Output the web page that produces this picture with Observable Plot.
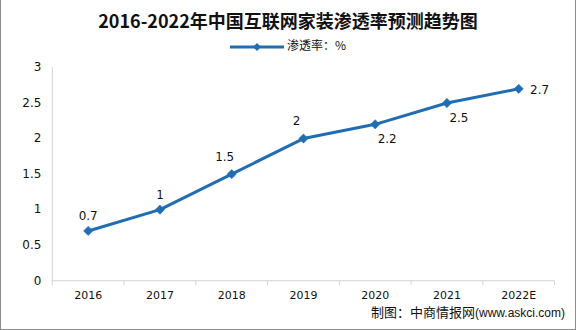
<!DOCTYPE html>
<html><head><meta charset="utf-8">
<script src="https://cdn.jsdelivr.net/npm/d3@7"></script>
<script src="https://cdn.jsdelivr.net/npm/@observablehq/plot@0.6"></script>
<style>
body{margin:0;background:#fff;}
#wrap{position:relative;width:576px;height:330px;box-sizing:border-box;border:1px solid #8c8c8c;border-top:none;overflow:hidden;font-family:"Noto Sans CJK SC",sans-serif;background:#fff;}
#title{position:absolute;top:7px;left:0;width:100%;text-align:center;font-weight:bold;font-size:18px;line-height:26px;font-family:"Noto Sans CJK SC",serif;color:#111;}
#legend{position:absolute;top:36px;left:0;width:100%;text-align:center;font-size:12px;line-height:18px;color:#111;}
#legend svg{vertical-align:middle;margin-right:3px;}
#chart{position:absolute;top:56px;left:0;}
#caption{position:absolute;right:10px;top:305px;font-size:13px;line-height:14px;color:#111;white-space:nowrap;}
#caption span{font-family:"Liberation Sans",Arial,sans-serif;font-size:12px;}
</style></head>
<body>
<div id="wrap">
  <div id="title"></div>
  <div id="legend"></div>
  <div id="chart"></div>
  <div id="caption"></div>
</div>
<script>
const titleText = "2016-2022年中国互联网家装渗透率预测趋势图";
const seriesName = "渗透率：%";
const captionText = "制图：中商情报网";
const captionSite = "(www.askci.com)";
const years = ["2016","2017","2018","2019","2020","2021","2022E"];
const rates = [0.7, 1, 1.5, 2, 2.2, 2.5, 2.7];
const yTicks = [0, 0.5, 1, 1.5, 2, 2.5, 3];
const labelAbove = ["2016","2017"];
const labelAboveLeft = ["2018","2019"];
const labelBelowRight = ["2020","2021"];
const labelRight = ["2022E"];

const blue = "#1f6db5";
const data = years.map((y, i) => ({year: y, rate: rates[i]}));

document.getElementById("title").textContent = titleText;
document.getElementById("legend").innerHTML =
  `<svg width="54" height="10"><line x1="0" y1="5" x2="54" y2="5" stroke="${blue}" stroke-width="3"/><path d="M27,1 L31,5 L27,9 L23,5Z" fill="${blue}"/></svg><span></span>`;
document.querySelector("#legend span").textContent = seriesName;
document.getElementById("caption").innerHTML = "<b style='font-weight:normal'></b><span></span>";
document.querySelector("#caption b").textContent = captionText;
document.querySelector("#caption span").textContent = captionSite;

const txt = {fontSize: 12, fill: "#111", fontFamily: "DejaVu Sans, sans-serif"};
const chart = Plot.plot({
  width: 576, height: 246,
  marginLeft: 51, marginRight: 21, marginTop: 11, marginBottom: 21,
  style: {fontFamily: "DejaVu Sans, sans-serif", fontSize: "11px", color: "#111", background: "transparent", overflow: "visible"},
  x: {type: "band", domain: years, padding: 0},
  y: {domain: [0, 3]},
  marks: [
    Plot.axisY({ticks: yTicks, tickSize: 0, tickPadding: 11, tickFormat: d => String(d), label: null, fontSize: 12}),
    Plot.axisX({tickSize: 0, tickPadding: 11, label: null, fontSize: 11}),
    Plot.frame({anchor: "left", stroke: "#d4d4d4"}),
    Plot.ruleY([0], {stroke: "#d4d4d4"}),
    Plot.ruleX(years, {x: d => d, y1: 0, y2: 0, insetBottom: -5, dx: -36, stroke: "#d4d4d4"}),
    Plot.ruleX(years.slice(-1), {x: d => d, y1: 0, y2: 0, insetBottom: -5, dx: 36, stroke: "#d4d4d4"}),
    Plot.line(data, {x: "year", y: "rate", stroke: blue, strokeWidth: 3}),
    Plot.dot(data, {x: "year", y: "rate", symbol: "diamond2", r: 4.2, fill: blue, stroke: blue, strokeWidth: 0.5}),
    Plot.text(data.filter(d => labelAbove.includes(d.year)), {x: "year", y: "rate", text: d => String(d.rate), dy: -15, ...txt}),
    Plot.text(data.filter(d => labelAboveLeft.includes(d.year)), {x: "year", y: "rate", text: d => String(d.rate), dx: -7, dy: -17, ...txt}),
    Plot.text(data.filter(d => labelBelowRight.includes(d.year)), {x: "year", y: "rate", text: d => String(d.rate), dx: 12, dy: 15, ...txt}),
    Plot.text(data.filter(d => labelRight.includes(d.year)), {x: "year", y: "rate", text: d => String(d.rate), dx: 21, dy: 1, ...txt})
  ]
});
document.getElementById("chart").appendChild(chart);
</script>
</body></html>
